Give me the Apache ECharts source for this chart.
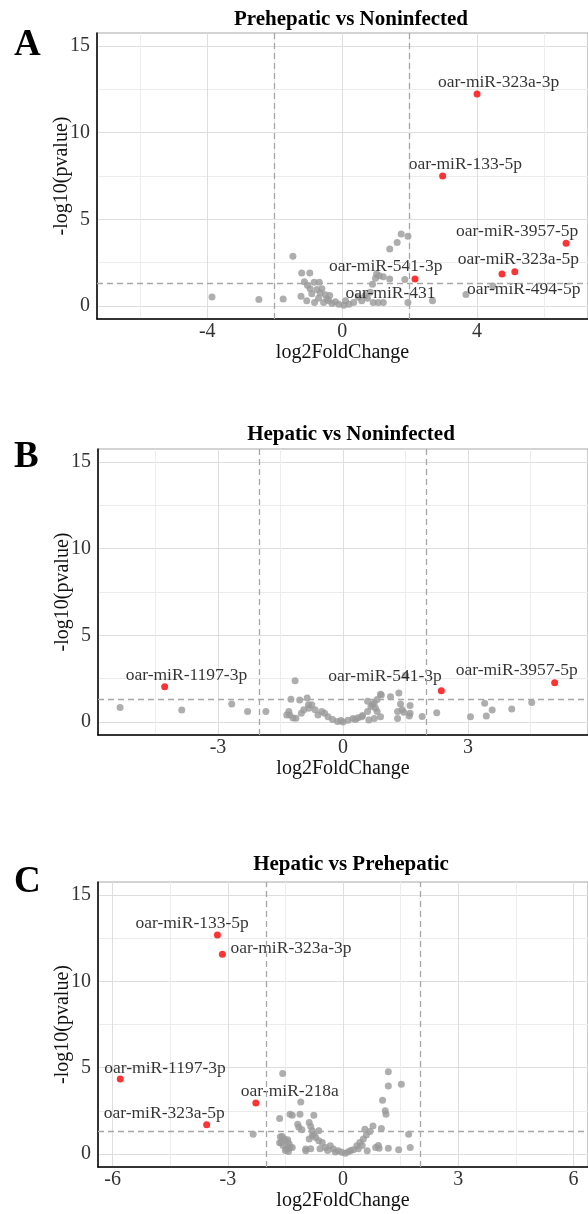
<!DOCTYPE html>
<html>
<head>
<meta charset="utf-8">
<script src="https://cdn.jsdelivr.net/npm/echarts@6/dist/echarts.min.js"></script>
<style>html,body{margin:0;padding:0;background:#fff}#main{width:588px;height:1214px}</style>
</head>
<body>
<div id="main"></div>
<script>
// ---------- data ----------
const titles = ['Prehepatic vs Noninfected', 'Hepatic vs Noninfected', 'Hepatic vs Prehepatic'];
const panelLetters = ['A', 'B', 'C'];
const yTickLabels = [0, 5, 10, 15];
const yGridValues = [0, 2.5, 5, 7.5, 10, 12.5, 15];
const xTickLabelsA = [-4, 0, 4];
const xTickLabelsB = [-3, 0, 3];
const xTickLabelsC = [-6, -3, 0, 3, 6];
const xGridA = [-6, -4, -2, 0, 2, 4, 6];
const xGridB = [-4.5, -3, -1.5, 0, 1.5, 3, 4.5];
const xGridC = [-6, -4.5, -3, -1.5, 0, 1.5, 3, 4.5, 6];
const fcCutoff = 2;
const pCutoff = 1.301;

// Panel A: Prehepatic vs Noninfected
const greyA = [[-3.86,0.52],[-2.47,0.38],[-1.75,0.4],[-1.46,2.87],[-1.2,1.9],[-0.96,1.9],[-1.12,1.4],[-0.83,1.37],[-0.68,1.37],[-1.03,1.2],[-0.95,1.0],[-0.75,0.95],[-0.6,1.0],[-0.5,0.65],[-0.37,0.6],[-1.22,0.56],[-1.05,0.3],[-0.82,0.2],[-0.55,0.2],[-0.3,0.15],[-0.1,0.1],[0.05,0.04],[0.2,0.1],[0.34,0.2],[0.48,0.5],[0.58,0.3],[0.68,0.6],[0.83,0.8],[0.92,0.2],[1.07,0.2],[1.22,0.2],[0.9,1.25],[0.99,1.6],[1.02,1.85],[1.22,1.69],[1.41,1.56],[1.41,3.29],[1.63,3.67],[1.75,4.15],[1.95,4.02],[1.95,0.2],[3.67,0.67],[4.47,1.15],[-0.45,0.4],[-0.2,0.25],[0.1,0.3],[-0.65,0.75],[-0.9,0.7],[1.86,1.53],[-0.7,0.45],[-0.4,0.3],[0.75,0.45],[1.1,1.75]];
const sigA = [[4.0,12.23],[2.98,7.5],[6.64,3.62],[5.12,1.97],[4.74,1.85],[2.16,1.56]];
const sigNamesA = ['oar-miR-323a-3p','oar-miR-133-5p','oar-miR-3957-5p','oar-miR-323a-5p','oar-miR-494-5p','oar-miR-541-3p'];
const labeledGreyA = [[2.68,0.3]];
const labeledGreyNamesA = ['oar-miR-431'];

// Panel B: Hepatic vs Noninfected
const greyB = [[-5.35,0.83],[-3.87,0.69],[-2.67,1.04],[-2.29,0.6],[-1.85,0.6],[-1.35,0.4],[-1.3,0.6],[-1.25,1.31],[-1.15,2.38],[-1.2,0.23],[-1.04,1.27],[-0.86,1.38],[-0.83,1.0],[-0.75,1.0],[-1.28,0.4],[-1.13,0.21],[-0.94,0.7],[-0.82,0.8],[-0.67,0.7],[-0.51,0.6],[-0.44,0.5],[-0.36,0.3],[-0.25,0.15],[-0.13,0.03],[0,0],[0.12,0.1],[0.24,0.2],[0.36,0.25],[0.47,0.38],[0.59,0.6],[0.67,0.9],[0.75,1.1],[0.82,1.3],[0.9,1.6],[0.59,1.2],[0.71,1.0],[0.78,0.8],[0.82,0.6],[0.75,0.2],[0.9,0.3],[1.34,1.67],[1.31,0.6],[1.42,0.7],[1.31,0.2],[1.61,0.5],[1.9,0.32],[2.25,0.53],[3.06,0.3],[3.4,1.08],[3.44,0.35],[3.58,0.69],[4.05,0.75],[4.53,1.12],[1.61,0.95],[1.38,1.04],[1.46,0.56],[1.59,0.35],[0.92,1.56],[1.14,1.46],[0.62,0.11],[1.5,2.7],[-0.6,0.4],[-0.05,0.08],[0.3,0.15],[0.45,0.3],[-1.0,0.5]];
const sigB = [[-4.28,2.04],[2.36,1.81],[5.08,2.27]];
const sigNamesB = ['oar-miR-1197-3p','oar-miR-541-3p','oar-miR-3957-5p'];

// Panel C: Hepatic vs Prehepatic
const greyC = [[-1.57,4.67],[-2.34,1.15],[-1.1,3.02],[-1.65,2.06],[-1.38,2.3],[-1.32,2.25],[-1.12,2.3],[-1.18,1.73],[-0.88,1.83],[-1.15,1.55],[-1.07,1.4],[-1.58,1.02],[-1.61,0.67],[-1.53,0.87],[-1.44,0.83],[-1.4,0.58],[-1.38,0.38],[-1.48,0.3],[-1.32,0.38],[-0.97,0.29],[-0.88,0.87],[-0.8,1.06],[-0.71,0.96],[-0.63,0.77],[-0.54,0.67],[-0.84,1.6],[-0.8,1.35],[-0.76,1.15],[-0.63,1.35],[-0.46,0.38],[-0.33,0.48],[-0.25,0.29],[-0.12,0.19],[-0.03,0.1],[0.06,0.05],[0.14,0.13],[0.27,0.25],[0.36,0.48],[0.44,0.67],[0.53,0.87],[0.61,1.1],[0.7,1.3],[0.78,1.63],[0.57,1.44],[1.0,1.48],[0.85,0.38],[0.94,0.33],[1.18,0.33],[1.45,0.25],[1.71,1.15],[1.75,0.38],[1.18,4.77],[1.18,3.94],[1.52,4.04],[1.03,3.12],[1.1,2.5],[1.12,2.31],[-0.76,2.25],[0.63,0.19],[-0.84,0.3],[-0.97,0.19],[-1.63,1.0],[-1.65,0.65],[-1.56,0.5],[-1.45,0.7],[-1.43,0.31],[-1.5,0.2],[-1.42,0.15],[-0.6,0.3],[-0.4,0.2],[0.2,0.2],[0.4,0.3],[0.5,0.5],[-0.2,0.12],[0.92,0.5]];
const sigC = [[-3.27,12.68],[-3.14,11.56],[-5.8,4.35],[-3.55,1.69],[-2.27,2.95]];
const sigNamesC = ['oar-miR-133-5p','oar-miR-323a-3p','oar-miR-1197-3p','oar-miR-323a-5p','oar-miR-218a'];

// ---------- layout / style ----------
const SERIF = '"Liberation Serif", "Times New Roman", serif';
const grids = [
  {left: 97, top: 33, width: 498, height: 286},
  {left: 98, top: 449, width: 500, height: 286},
  {left: 98, top: 882, width: 500, height: 285}
];
const xRanges = [[-7.27, 7.29], [-5.88, 5.88], [-6.38, 6.38]];
const yRange = [-0.75, 15.75];
const titleTops = [4, 419, 849];
const letterTops = [22, 434, 859];
// offsets: [label left edge - point x, label centre y - point y]
const labelOffsets = [
  {'oar-miR-323a-3p':[-39,-12],'oar-miR-133-5p':[-34,-12],'oar-miR-3957-5p':[-110,-12],'oar-miR-323a-5p':[-57,-12],'oar-miR-494-5p':[-35,15],'oar-miR-541-3p':[-86,-13],'oar-miR-431':[-87,-7]},
  {'oar-miR-1197-3p':[-39,-11],'oar-miR-541-3p':[-113,-14],'oar-miR-3957-5p':[-99,-12]},
  {'oar-miR-133-5p':[-82,-12],'oar-miR-323a-3p':[8,-6],'oar-miR-1197-3p':[-16,-11],'oar-miR-323a-5p':[-103,-11],'oar-miR-218a':[-15,-12]}
];

const greys = [greyA, greyB, greyC];
const sigs = [sigA, sigB, sigC];
const sigNames = [sigNamesA, sigNamesB, sigNamesC];
const xLabelSets = [xTickLabelsA, xTickLabelsB, xTickLabelsC];
const xGridSets = [xGridA, xGridB, xGridC];
const xGridColors = [['#ececec','#dedede'], ['#ececec','#dedede'], ['#dedede','#ececec']];

const option = {
  backgroundColor: '#fff',
  animation: false,
  title: [],
  grid: [],
  xAxis: [],
  yAxis: [],
  series: []
};

function labelFor(panel, name) {
  return {
    show: true, position: 'inside', formatter: name,
    align: 'left', verticalAlign: 'middle',
    offset: labelOffsets[panel][name] || [0, -12],
    color: '#000', fontFamily: SERIF, fontSize: 17.5
  };
}

for (let p = 0; p < 3; p++) {
  option.title.push({
    text: titles[p], left: 346, top: titleTops[p], textAlign: 'center',
    textStyle: {fontFamily: SERIF, fontWeight: 'bold', fontSize: 21, color: '#000'}
  });
  option.title.push({
    text: panelLetters[p], left: 9, top: letterTops[p],
    textStyle: {fontFamily: SERIF, fontWeight: 'bold', fontSize: 37, color: '#000'}
  });
  option.grid.push(Object.assign({show: true, borderColor: '#a8a8a8', borderWidth: 1.2, backgroundColor: '#fff'}, grids[p]));
  option.xAxis.push({
    type: 'value', gridIndex: p, min: xRanges[p][0], max: xRanges[p][1],
    name: 'log2FoldChange', nameLocation: 'middle', nameGap: 22,
    nameTextStyle: {fontFamily: SERIF, fontSize: 20, color: '#111'},
    axisLine: {show: true, onZero: false, lineStyle: {color: '#000', width: 1.5}},
    axisTick: {show: false, customValues: xGridSets[p]},
    axisLabel: {customValues: xLabelSets[p], fontFamily: SERIF, fontSize: 20, color: '#333', margin: 3},
    splitLine: {show: true, lineStyle: {color: xGridColors[p], width: 1}}
  });
  option.yAxis.push({
    type: 'value', gridIndex: p, min: yRange[0], max: yRange[1],
    name: '-log10(pvalue)', nameLocation: 'middle', nameGap: 25, nameMoveOverlap: false,
    nameTextStyle: {fontFamily: SERIF, fontSize: 20, color: '#111'},
    axisLine: {show: true, onZero: false, lineStyle: {color: '#000', width: 1.5}},
    axisTick: {show: false, customValues: yGridValues},
    axisLabel: {customValues: yTickLabels, fontFamily: SERIF, fontSize: 20, color: '#333', margin: 7},
    splitLine: {show: true, lineStyle: {color: ['#dedede', '#ececec'], width: 1}}
  });
  option.series.push({
    type: 'scatter', xAxisIndex: p, yAxisIndex: p, symbolSize: 7,
    itemStyle: {color: '#9a9a9a'}, data: greys[p], silent: true,
    markLine: {
      silent: true, symbol: ['none', 'none'], label: {show: false},
      lineStyle: {color: '#a6a6a6', type: [6, 4], width: 1.3},
      data: [{xAxis: -fcCutoff}, {xAxis: fcCutoff}, {yAxis: pCutoff}]
    }
  });
  if (p === 0) {
    option.series.push({
      type: 'scatter', xAxisIndex: p, yAxisIndex: p, symbolSize: 7,
      itemStyle: {color: '#9a9a9a'}, silent: true,
      data: labeledGreyA.map((d, i) => ({value: d, label: labelFor(p, labeledGreyNamesA[i])}))
    });
  }
  option.series.push({
    type: 'scatter', xAxisIndex: p, yAxisIndex: p, symbolSize: 7,
    itemStyle: {color: '#ff0000'}, silent: true, z: 3,
    data: sigs[p].map((d, i) => ({value: d, label: labelFor(p, sigNames[p][i])}))
  });
}

const chart = echarts.init(document.getElementById('main'), null, {renderer: 'canvas'});
chart.setOption(option);
</script>
</body>
</html>
